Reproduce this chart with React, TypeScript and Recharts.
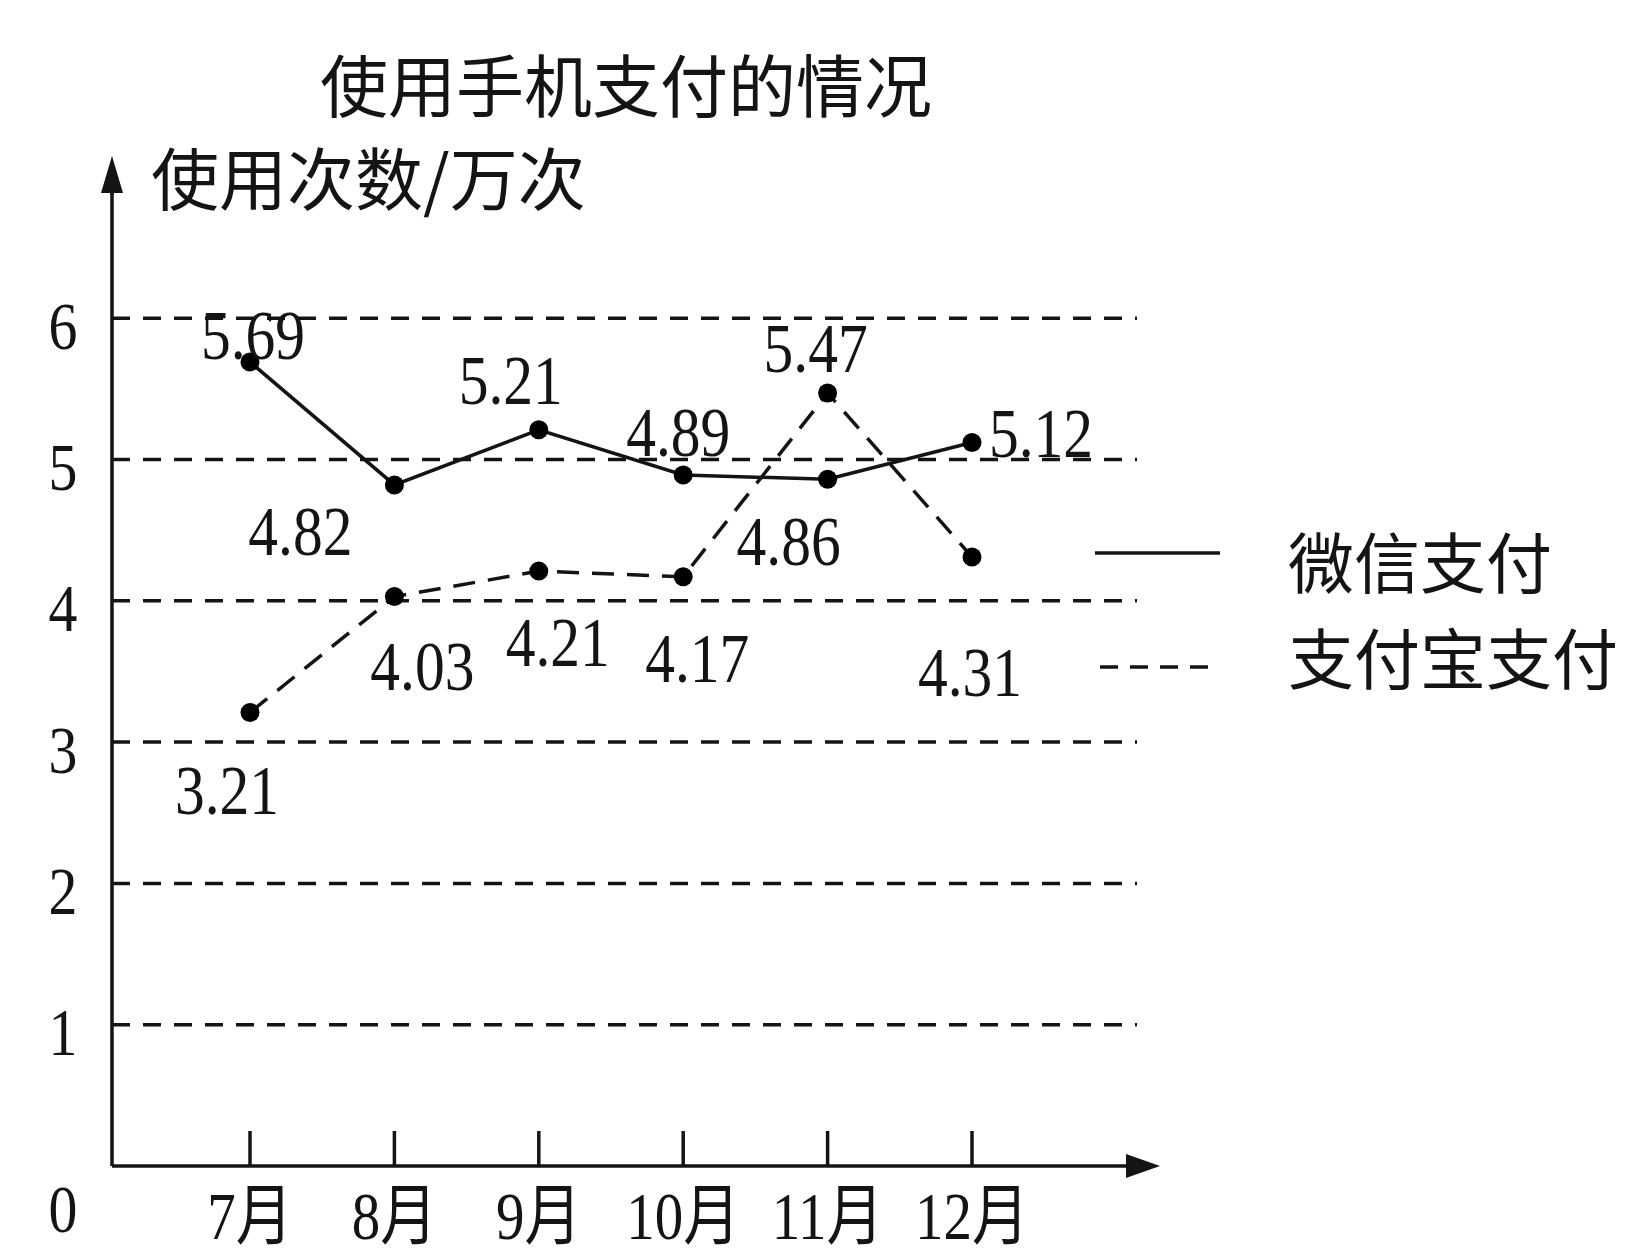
import React from 'react';
import { LineChart, Line, XAxis, YAxis, CartesianGrid, Legend } from 'recharts';

const months = ['7月', '8月', '9月', '10月', '11月', '12月'];
const wechatValues = [5.69, 4.82, 5.21, 4.89, 4.86, 5.12];
const alipayValues = [3.21, 4.03, 4.21, 4.17, 5.47, 4.31];
const yTicks = [0, 1, 2, 3, 4, 5, 6];
const titleText = '使用手机支付的情况';
const yAxisTitle = '使用次数/万次';
const wechatName = '微信支付';
const alipayName = '支付宝支付';

const data = months.map((m, i) => ({ month: m, wechat: wechatValues[i], alipay: alipayValues[i] }));

// label placement (styling only): [dx, dy] of text centre from its point
const wechatLabelOffsets = [[3, -26], [-94, 47], [-28, -49], [-5, -42], [-39, 63], [69, -9]];
const alipayLabelOffsets = [[-23, 78], [28, 70], [19, 72], [14, 82], [-12, -44], [-2, 116]];

const INK = '#141414';
const SERIF = '"Liberation Serif", "Times New Roman", "Noto Sans CJK SC", serif';
const CJK = '"Noto Sans CJK SC", "Noto Sans", sans-serif';
const NUM_SIZE = 70;
const SQUEEZE = 0.85;
const LINE_W = 3.5;
const ALIPAY_DASH = '22 13';

const Condensed = ({ cx, cy, children, size = NUM_SIZE }: any) => (
  <g transform={`translate(${cx},${cy + size * 0.33}) scale(${SQUEEZE},1)`}>
    <text x={0} y={0} textAnchor="middle" fontFamily={SERIF} fontSize={size} fill={INK}>
      {children}
    </text>
  </g>
);

const makeLabel = (offsets: number[][]) => (props: any) => {
  const { x, y, value, index } = props;
  const off = offsets[index] || [0, -30];
  return (
    <Condensed key={`l-${index}`} cx={x + off[0]} cy={y + off[1]}>
      {Number(value).toFixed(2)}
    </Condensed>
  );
};

const YTick = (props: any) => {
  const { x, y, payload } = props;
  const isZero = payload.value === 0;
  return (
    <Condensed cx={x - 49} cy={y + (isZero ? 44 : 8)} size={68}>
      {payload.value}
    </Condensed>
  );
};

const XTick = (props: any) => {
  const { x, y, payload } = props;
  return (
    <g>
      <line x1={x} y1={y - 35} x2={x} y2={y} stroke={INK} strokeWidth={LINE_W} />
      <Condensed cx={x} cy={y + 51} size={67}>
        {payload.value}
      </Condensed>
    </g>
  );
};

const YAxisDecor = (props: any) => {
  const vb = props.viewBox || { x: 0, y: 193, width: 112, height: 973 };
  const ax = vb.x + vb.width;
  const top = vb.y;
  return (
    <g>
      <line x1={ax} y1={top + 2} x2={ax} y2={top - 10} stroke={INK} strokeWidth={LINE_W} />
      <polygon points={`${ax - 11},${top} ${ax},${top - 37} ${ax + 11},${top}`} fill={INK} />
      <text x={ax + 39} y={top + 12} fontFamily={CJK} fontSize={68} fill={INK}>
        {yAxisTitle}
      </text>
    </g>
  );
};

const XAxisDecor = (props: any) => {
  const vb = props.viewBox || { x: 112, y: 1166, width: 1025, height: 80 };
  const right = vb.x + vb.width;
  const ay = vb.y;
  return (
    <g>
      <polygon points={`${right - 11},${ay - 12} ${right + 23},${ay} ${right - 11},${ay + 12}`} fill={INK} />
    </g>
  );
};

const LegendContent = () => (
  <div style={{ position: 'relative', width: 555, height: 0, overflow: 'visible' }}>
    <svg width={555} height={230} style={{ position: 'absolute', left: 0, top: 0, overflow: 'visible' }}>
      <line x1={15} y1={53} x2={140} y2={53} stroke={INK} strokeWidth={LINE_W} />
      <line x1={20} y1={167} x2={140} y2={167} stroke={INK} strokeWidth={LINE_W} strokeDasharray="18 12" />
      <text x={208} y={88} fontFamily={CJK} fontSize={66} fill={INK}>{wechatName}</text>
      <text x={208} y={184} fontFamily={CJK} fontSize={66} fill={INK}>{alipayName}</text>
    </svg>
  </div>
);

export default function App() {
  return (
    <div style={{ position: 'absolute', left: 0, top: 0, width: 1635, height: 1255, background: '#fff' }}>
      <div
        style={{
          position: 'absolute',
          left: 226,
          top: 38,
          width: 800,
          textAlign: 'center',
          fontFamily: CJK,
          fontSize: 68,
          color: INK,
          lineHeight: '90px',
        }}
      >
        {titleText}
      </div>
      <LineChart
        width={1635}
        height={1255}
        data={data}
        margin={{ top: 193, right: 498, left: 0, bottom: 9 }}
        style={{ position: 'absolute', left: 0, top: 0 }}
      >
        <CartesianGrid
          horizontal
          vertical={false}
          horizontalValues={yTicks.filter((v) => v > 0)}
          stroke={INK}
          strokeWidth={LINE_W}
          strokeDasharray="18 13"
        />
        <XAxis
          dataKey="month"
          type="category"
          height={80}
          padding={{ left: 138, right: 165 }}
          axisLine={{ stroke: INK, strokeWidth: LINE_W }}
          tickLine={false}
          tickSize={0}
          tickMargin={0}
          tick={<XTick />}
          interval={0}
          label={{ content: (p: any) => <XAxisDecor {...p} /> }}
        />
        <YAxis
          type="number"
          width={112}
          domain={[0, 6.886]}
          ticks={yTicks}
          axisLine={{ stroke: INK, strokeWidth: LINE_W }}
          tickLine={false}
          tickSize={0}
          tickMargin={0}
          tick={<YTick />}
          interval={0}
          allowDataOverflow
          label={{ content: (p: any) => <YAxisDecor {...p} /> }}
        />
        <Line
          dataKey="wechat"
          name={wechatName}
          stroke={INK}
          strokeWidth={LINE_W}
          isAnimationActive={false}
          dot={{ r: 9.5, fill: '#000', stroke: '#000', strokeWidth: 0 }}
          label={makeLabel(wechatLabelOffsets)}
        />
        <Line
          dataKey="alipay"
          name={alipayName}
          stroke={INK}
          strokeWidth={LINE_W}
          strokeDasharray={ALIPAY_DASH}
          isAnimationActive={false}
          dot={{ r: 9.5, fill: '#000', stroke: '#000', strokeWidth: 0, strokeDasharray: '0' }}
          label={makeLabel(alipayLabelOffsets)}
        />
        <Legend
          content={<LegendContent />}
          wrapperStyle={{ position: 'absolute', left: 1080, top: 500, width: 555, height: 0 }}
        />
      </LineChart>
    </div>
  );
}
